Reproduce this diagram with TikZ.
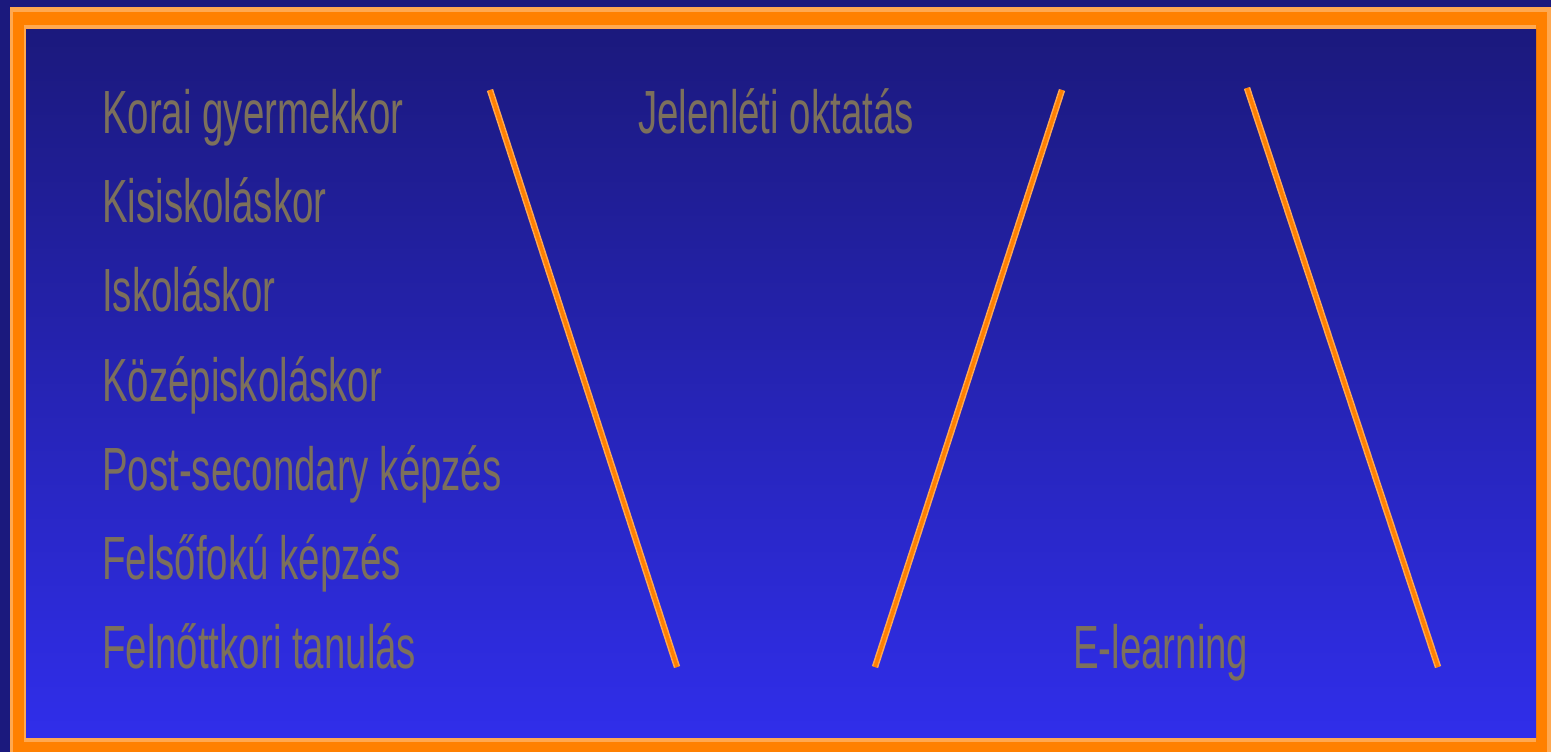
\documentclass[tikz,border=0pt]{standalone}
\usepackage{fontspec}
\newfontfamily\lblfont{Liberation Sans}[FakeStretch=0.63]
\definecolor{navy}{RGB}{27,25,125}
\definecolor{bluebot}{RGB}{48,46,234}
\definecolor{frameorange}{RGB}{255,128,0}
\definecolor{framelight}{RGB}{255,168,80}
\definecolor{txtgray}{RGB}{124,112,92}
\tikzset{
  lbl/.style={anchor=base west, inner sep=0pt, text=txtgray,
    font=\lblfont\fontsize{61}{61}\selectfont},
  glowline/.style={draw=framelight, line width=6.5pt, line cap=butt},
  coreline/.style={draw=frameorange, line width=3.5pt, line cap=butt}
}
\begin{document}
\begin{tikzpicture}[x=1pt,y=-1pt]
\useasboundingbox (0,0) rectangle (1551,752);
% outer background
\fill[navy] (0,0) rectangle (1551,752);
% orange frame
\fill[frameorange] (10,7) rectangle (1551,752);
\fill[framelight] (10,7) rectangle (1551,12);
\fill[framelight] (10,7) rectangle (13,752);
\fill[framelight] (1547,7) rectangle (1551,752);
\fill[framelight] (24,25) rectangle (1536,30);
\fill[framelight] (24,25) rectangle (27,737);
\fill[framelight] (24,737) rectangle (1536,742);
% inner gradient panel
\shade[top color=navy, bottom color=bluebot] (26,30) rectangle (1536,737);

% left column labels
\node[lbl] (k1) at (102,133) {Korai gyermekkor};
\node[lbl] (k2) at (102,222) {Kisiskoláskor};
\node[lbl] (k3) at (102,311) {Iskoláskor};
\node[lbl] (k4) at (102,401) {Középiskoláskor};
\node[lbl] (k5) at (102,490) {Post-secondary képzés};
\node[lbl] (k6) at (102,579) {Felsőfokú képzés};
\node[lbl] (k7) at (102,668) {Felnőttkori tanulás};

% right labels
\node[lbl] (jel) at (638,133) {Jelenléti oktatás};
\node[lbl] (el) at (1073,668) {E-learning};

% line end points
\coordinate (a1) at (490,90);
\coordinate (a2) at (677,667);
\coordinate (b1) at (875,667);
\coordinate (b2) at (1062,90);
\coordinate (c1) at (1247,88);
\coordinate (c2) at (1438,667);

\foreach \p/\q in {a1/a2,b1/b2,c1/c2}{
  \draw[glowline] (\p) -- (\q);
  \draw[coreline] (\p) -- (\q);
}
\end{tikzpicture}
\end{document}
